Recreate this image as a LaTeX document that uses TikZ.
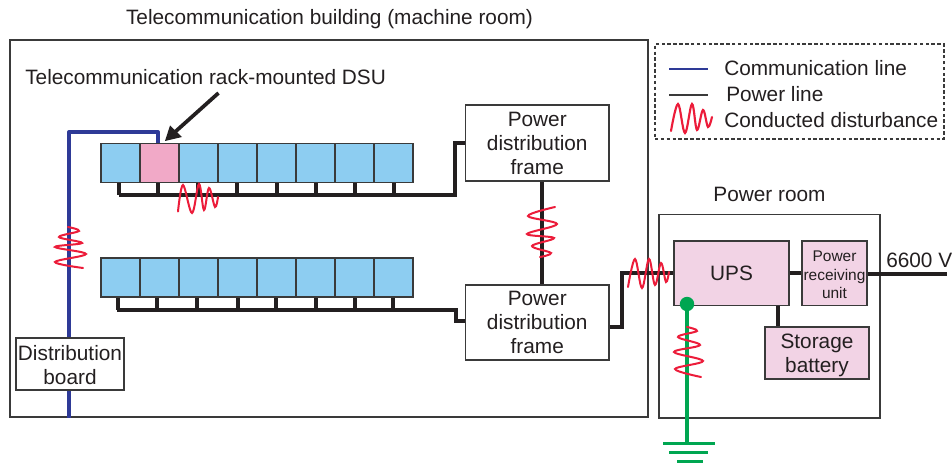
\documentclass[tikz,border=0pt]{standalone}
\usepackage{fontspec}
\setmainfont{Liberation Sans}
\definecolor{ink}{HTML}{231F20}
\definecolor{frameg}{HTML}{3A3A3A}
\definecolor{cellblue}{HTML}{8DCDF1}
\definecolor{cellpink}{HTML}{F1A9C7}
\definecolor{roompink}{HTML}{F2D3E5}
\definecolor{commblue}{HTML}{2E3A97}
\definecolor{earth}{HTML}{00A651}
\definecolor{noise}{HTML}{EC1C3A}
\tikzset{
  sz/.style 2 args={minimum width=#1*0.75pt,minimum height=#2*0.75pt},
  lbl/.style={text=ink,font=\fontsize{15.6}{18}\selectfont,inner sep=0pt,align=center},
  box/.style={draw=frameg,line width=1.1pt,fill=white,inner sep=0pt,text=ink,align=center,font=\fontsize{15.6}{18}\selectfont},
  pbox/.style={box,fill=roompink},
  cell/.style={draw=frameg,line width=1pt,fill=cellblue,inner sep=0pt,sz={39}{39}},
  room/.style={draw=frameg,line width=1.1pt,inner sep=0pt},
  pline/.style={draw=ink,line width=2.5pt,line join=miter},
  bustick/.style={draw=ink,line width=2.8pt},
  cline/.style={draw=commblue,line width=2.5pt,line join=round},
  gline/.style={draw=earth,line width=2.8pt},
  wave/.style={draw=noise,line width=1.5pt,line cap=round},
}
\begin{document}
\begin{tikzpicture}[x=0.75pt,y=-0.75pt]
\useasboundingbox (0,0) rectangle (952,466);
\fill[white] (0,0) rectangle (952,466);

% rooms
\node[room,sz={638}{377}] (building) at (329,228.5) {};
\node[room,sz={221}{203.5}] (powerroom) at (769.5,316.25) {};
\node[lbl,anchor=center] (buildingtitle) at (329.5,19.5) {Telecommunication building (machine room)};
\node[lbl] (powertitle) at (769.5,194.5) {Power room};

% legend
\node[draw=frameg,dash pattern=on 2.6pt off 1.8pt,line width=0.9pt,inner sep=0pt,sz={289}{95}] (legend) at (799.5,91.5) {};
\node[lbl,anchor=west] (legcomm) at (724,68) {Communication line};
\node[lbl,anchor=west] (legpow) at (726,94) {Power line};
\node[lbl,anchor=west] (legdist) at (724,120.5) {Conducted disturbance};
\coordinate (lc1) at (669,69); \coordinate (lc2) at (708,69);
\coordinate (lp1) at (669,95); \coordinate (lp2) at (708,95);
\draw[commblue,line width=1.3pt] (lc1) -- (lc2);
\draw[frameg,line width=1pt] (lp1) -- (lp2);
\draw[wave,line width=1.6pt] plot[smooth,tension=0.6] coordinates {(671,131) (678,104) (685,133) (692,104) (697,130) (703,110) (708,127) (712,117)};

% bus corners
\coordinate (bus1l) at (119,195);
\coordinate (bus1c) at (455,195);
\coordinate (bus1u) at (455,143);
\coordinate (bus2l) at (117,310);
\coordinate (bus2c) at (456,310);
\coordinate (bus2d) at (456,321);

% racks
\foreach \i [evaluate=\i as \xa using {101+39*(\i-1)+19.5}] in {1,...,8} {
  \node[cell] (ra\i) at (\xa,163) {};
  \node[cell] (rb\i) at (\xa,277.5) {};
}
\node[cell,fill=cellpink] (pinkcell) at (159.5,163) {};
\foreach \i/\xt in {1/119,2/158,3/198,4/237,5/277,6/316,7/355,8/394} {
  \coordinate (ta\i) at (\xt,195);
  \coordinate (tau\i) at (\xt,183);
  \draw[bustick] (ta\i) -- (tau\i);
}
\foreach \i/\xt in {1/118,2/157,3/197,4/238,5/276,6/316,7/355,8/393} {
  \coordinate (tb\i) at (\xt,310);
  \coordinate (tbu\i) at (\xt,298);
  \draw[bustick] (tb\i) -- (tbu\i);
}

% boxes
\node[box,sz={143.5}{76}] (pdf1) at (537.25,143) {\rule{0pt}{11.9pt}Power\\distribution\\frame};
\node[box,sz={143.5}{75}] (pdf2) at (537.25,322.5) {Power\\distribution\\frame};
\node[pbox,sz={115}{64.5}] (ups) at (731.5,273.25) {UPS};
\node[pbox,sz={65}{64.5},font=\fontsize{11.6}{13.9}\selectfont] (recv) at (834.5,273.25) {\rule{0pt}{10.5pt}Power\\receiving\\unit};
\node[pbox,sz={104}{52}] (batt) at (817,353) {\rule{0pt}{14.6pt}Storage\\battery};
\node[box,sz={108}{52}] (dboard) at (70,364) {\rule{0pt}{13pt}Distribution\\board};
\node[lbl,anchor=west] (dsu) at (25,77) {Telecommunication rack-mounted DSU};
\node[lbl,anchor=west] (volt) at (886,260) {6600 V};

% power wiring
\draw[pline] (bus1l) -- (bus1c) -- (bus1u) -- (pdf1.west |- bus1u);
\draw[pline] (bus2l) -- (bus2c) -- (bus2d) -- (pdf2.west |- bus2d);
\draw[pline,line width=2.4pt] (pdf1.south -| 542,0) -- (pdf2.north -| 542,0);
\coordinate (pv1) at (622,327);
\coordinate (pv2) at (622,273);
\draw[pline] (pdf2.east |- pv1) -- (pv1) -- (pv2) -- (ups.west |- pv2);
\draw[pline] (ups.east |- 0,273) -- (recv.west |- 0,273);
\coordinate (hvend) at (947,274);
\draw[pline] (recv.east |- hvend) -- (hvend);
\draw[pline,line width=2.3pt] (ups.south -| 778,0) -- (batt.north -| 778,0);

% communication line
\coordinate (cbot) at (69,417);
\coordinate (ctl) at (69,132);
\coordinate (ctr) at (158,132);
\draw[cline] (building.south -| cbot) -- (dboard.south -| cbot);
\draw[cline] (dboard.north -| ctl) -- (ctl) -- (ctr) -- (pinkcell.north -| ctr);

% arrow
\coordinate (arrowstart) at (218.5,93);
\coordinate (arrowend) at (165,141);
\draw[ink,line width=2.8pt] (arrowstart) -- (175,132);
\fill[ink] (arrowend) -- (170,125.5) -- (182,137) -- cycle;

% earth
\coordinate (gtop) at (687,304);
\coordinate (gbot) at (687,443.5);
\draw[gline] (gtop) -- (gbot);
\fill[earth] (gtop) circle[radius=7.2];
\draw[earth,line width=2.2pt] (663,443.5) -- (715,443.5);
\draw[earth,line width=2.2pt] (669,452.5) -- (708,452.5);
\draw[earth,line width=2.2pt] (677,461.5) -- (703,461.5);

% disturbance waves
\draw[wave] plot[smooth,tension=0.6] coordinates {(178,211.5) (183,185) (192,213) (199,184) (204,210) (209,188) (215,207) (218,197)};
\draw[wave] plot[smooth,tension=0.6] coordinates {(628,287) (635,259) (642,288) (649,259) (655,285) (661,263) (666,282) (669,272)};
\draw[wave] plot[smooth,tension=0.6] coordinates {(687,327) (697,331) (678,337) (700,345) (674,352) (703,361) (675,369) (701,377)};
\draw[wave] plot[smooth,tension=0.6] coordinates {(555,207) (528,216) (557,224) (527,234) (554,238) (532,246) (551,253) (540,257)};
\draw[wave] plot[smooth,tension=0.6] coordinates {(68,227) (79,231) (59,237) (82,243) (55,247) (86,254) (55,262) (83,268)};
\end{tikzpicture}
\end{document}
